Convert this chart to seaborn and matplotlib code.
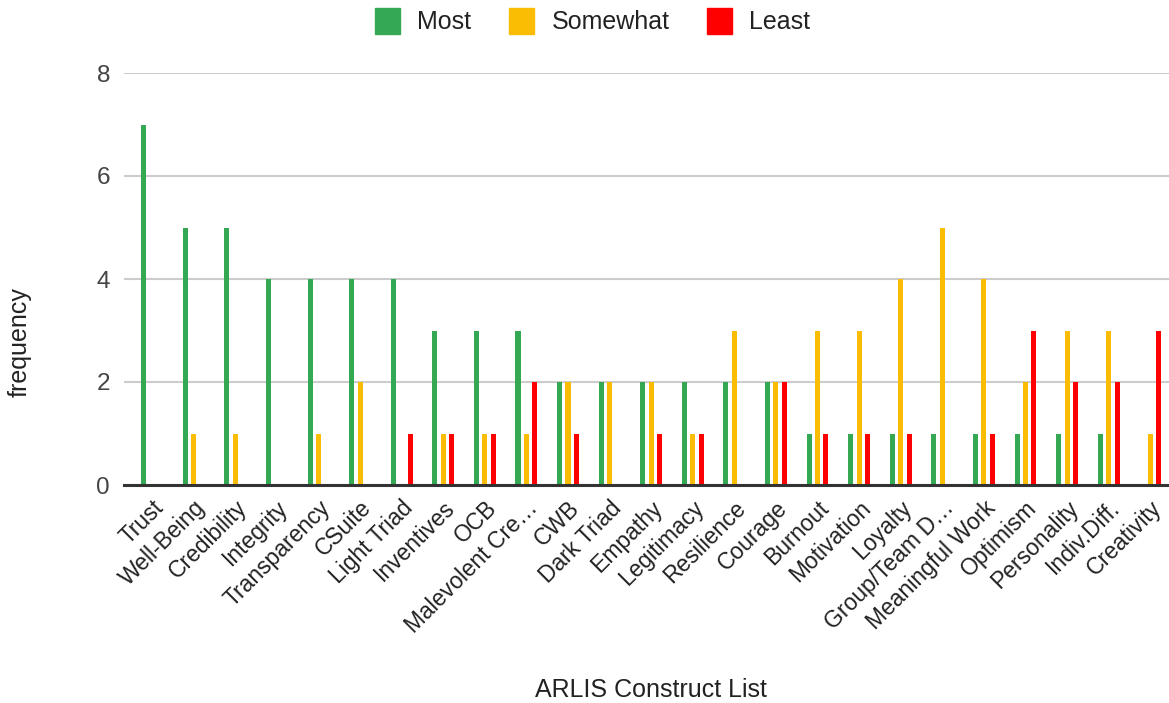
import matplotlib
matplotlib.use("Agg")
import matplotlib.pyplot as plt
import matplotlib.transforms as mtransforms
import seaborn as sns
import pandas as pd
from matplotlib.patches import Patch

categories = ["Trust", "Well-Being", "Credibility", "Integrity", "Transparency", "CSuite",
              "Light Triad", "Inventives", "OCB", "Malevolent Cre\u2026", "CWB", "Dark Triad",
              "Empathy", "Legitimacy", "Resilience", "Courage", "Burnout", "Motivation",
              "Loyalty", "Group/Team D\u2026", "Meaningful Work", "Optimism", "Personality",
              "Indiv.Diff.", "Creativity"]
most = [7, 5, 5, 4, 4, 4, 4, 3, 3, 3, 2, 2, 2, 2, 2, 2, 1, 1, 1, 1, 1, 1, 1, 1, 0]
somewhat = [0, 1, 1, 0, 1, 2, 0, 1, 1, 1, 2, 2, 2, 1, 3, 2, 3, 3, 4, 5, 4, 2, 3, 3, 1]
least = [0, 0, 0, 0, 0, 0, 1, 1, 1, 2, 1, 0, 1, 1, 0, 2, 1, 1, 1, 0, 1, 3, 2, 2, 3]
series_names = ["Most", "Somewhat", "Least"]
colors = ["#34A853", "#FBBC04", "#FF0000"]

rows = []
for name, vals in zip(series_names, [most, somewhat, least]):
    for c, v in zip(categories, vals):
        rows.append({"category": c, "series": name, "value": v})
df = pd.DataFrame(rows)

sns.set_theme(style="white")
plt.rcParams["font.family"] = ["Liberation Sans", "DejaVu Sans"]

fig = plt.figure(figsize=(11.69, 7.03), dpi=100)
ax = fig.add_axes([124 / 1169, 1 - 485 / 703, 1 - 124 / 1169, (485 - 73) / 703])

sns.barplot(data=df, x="category", y="value", hue="series", order=categories,
            hue_order=series_names, palette=colors, width=0.606, gap=0.4,
            legend=False, ax=ax, saturation=1, linewidth=0)

ax.set_ylim(0, 8)
ax.set_xlim(-0.675, 24.45)
ax.set_yticks([0, 2, 4, 6, 8])
ax.yaxis.grid(True, color="#cccccc", linewidth=1.5)
ax.set_axisbelow(True)
for s in ["top", "right", "left"]:
    ax.spines[s].set_visible(False)
ax.spines["bottom"].set_color("#333333")
ax.spines["bottom"].set_linewidth(2.2)
ax.tick_params(axis="y", length=0, pad=10, labelsize=17.5, labelcolor="#444444")
ax.tick_params(axis="x", length=0, pad=14, labelsize=16.5, labelcolor="#222222")
offset = mtransforms.ScaledTranslation(8 / 100, 0, fig.dpi_scale_trans)
for lab in ax.get_xticklabels():
    lab.set_rotation(45)
    lab.set_ha("right")
    lab.set_va("center")
    lab.set_rotation_mode("anchor")
    lab.set_transform(lab.get_transform() + offset)
ax.set_xlabel("")
ax.set_ylabel("")

fig.text(20 / 1169, 1 - 342 / 703, "frequency", rotation=90, ha="center", va="center",
         fontsize=18, color="#222222")
fig.text(651 / 1169, 1 - 690 / 703, "ARLIS Construct List", ha="center", va="center",
         fontsize=18, color="#222222")

handles = [Patch(facecolor=c, edgecolor=c, label=n) for n, c in zip(series_names, colors)]
fig.legend(handles=handles, loc="upper center", bbox_to_anchor=(0.507, 1.021), ncol=3,
           frameon=False, fontsize=18, handlelength=1.0, handleheight=1.25,
           handletextpad=0.7, columnspacing=1.5, labelcolor="#222222")

fig.savefig("out.png", dpi=100)
